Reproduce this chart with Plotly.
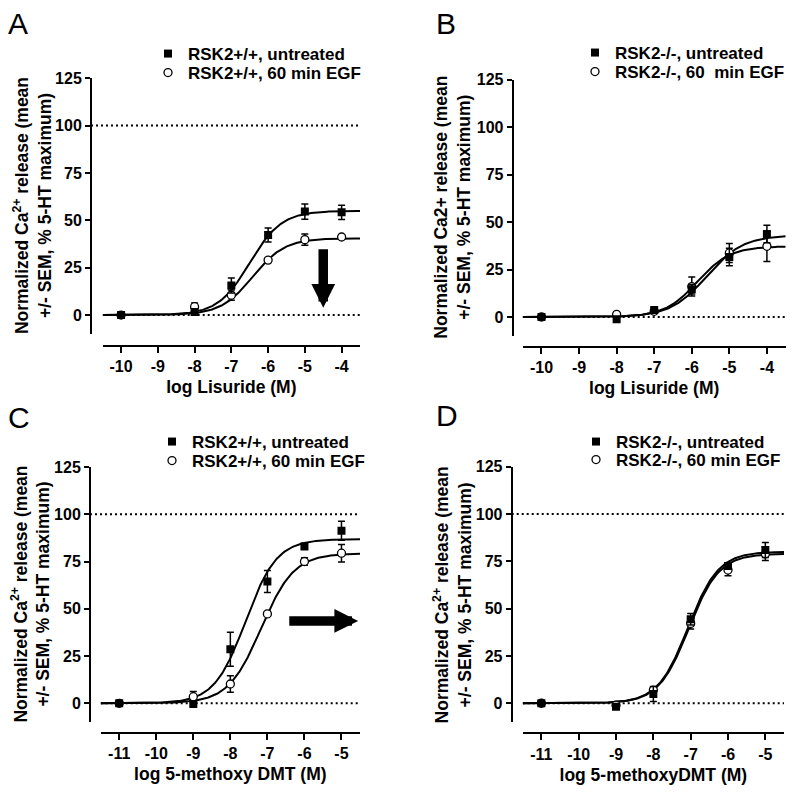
import numpy as np
import plotly.graph_objects as go

FONT = "Liberation Sans"

# ---------------- data ----------------
# Panel A: log Lisuride, RSK2+/+
a_logc = [-10, -8, -7, -6, -5, -4]
a_untr = [0.0, 1.6, 15.6, 42.3, 54.6, 54.2]
a_untr_sem = [0.5, 1.0, 4.0, 3.7, 4.0, 3.8]
a_egf = [0.0, 4.4, 10.5, 29.0, 39.8, 41.2]
a_egf_sem = [0.5, 2.0, 2.7, 1.0, 3.0, 1.0]
a_fit_untr = [0.0, 55.0, -6.50, 1.0]   # bottom, top, logEC50, Hill
a_fit_egf = [0.0, 40.5, -6.42, 1.0]

# Panel B: log Lisuride, RSK2-/-
b_logc = [-10, -8, -7, -6, -5, -4]
b_untr = [0.0, -1.2, 3.7, 14.6, 31.6, 43.7]
b_untr_sem = [0.5, 0.8, 1.0, 2.5, 4.6, 4.6]
b_egf = [0.0, 1.4, 3.0, 16.0, 33.7, 37.2]
b_egf_sem = [0.5, 0.8, 1.0, 5.0, 5.0, 8.0]
b_fit_untr = [0.0, 43.0, -5.60, 0.9]
b_fit_egf = [0.0, 37.2, -5.85, 1.0]

# Panel C: log 5-methoxy DMT, RSK2+/+
c_logc = [-11, -9, -8, -7, -6, -5]
c_untr = [0.0, -0.4, 28.6, 64.4, 83.0, 91.3]
c_untr_sem = [0.5, 0.5, 9.0, 5.8, 1.0, 5.0]
c_egf = [0.0, 3.5, 10.2, 47.3, 75.0, 79.4]
c_egf_sem = [0.5, 2.7, 4.4, 1.0, 2.0, 4.6]
c_fit_untr = [0.0, 86.8, -7.59, 1.03]
c_fit_egf = [0.0, 79.3, -7.17, 0.98]

# Panel D: log 5-methoxyDMT, RSK2-/-
d_logc = [-11, -9, -8, -7, -6, -5]
d_untr = [0.0, -1.8, 4.9, 44.4, 72.5, 81.0]
d_untr_sem = [0.5, 0.8, 4.0, 3.0, 1.5, 4.0]
d_egf = [0.0, -1.0, 7.0, 42.2, 70.4, 78.9]
d_egf_sem = [0.5, 0.8, 1.5, 3.0, 3.0, 3.5]
d_fit_untr = [0.0, 80.1, -7.07, 1.07]
d_fit_egf = [0.0, 79.0, -7.05, 1.07]

y_ticks = [0, 25, 50, 75, 100, 125]
a_xticks = [-10, -9, -8, -7, -6, -5, -4]
c_xticks = [-11, -10, -9, -8, -7, -6, -5]

legend_wt = ["RSK2+/+, untreated", "RSK2+/+, 60 min EGF"]
legend_ko_b = ["RSK2-/-, untreated", "RSK2-/-, 60&nbsp; min EGF"]
legend_ko_d = ["RSK2-/-, untreated", "RSK2-/-, 60 min EGF"]

ytitle_sup = "Normalized Ca<sup>2+</sup> release (mean<br>+/- SEM, % 5-HT maximum)"
ytitle_plain = "Normalized Ca2+ release (mean<br>+/- SEM, % 5-HT maximum)"


def fourpl(x, p):
    bottom, top, logec50, hill = p
    x = np.asarray(x, float)
    return bottom + (top - bottom) / (1 + 10 ** ((logec50 - x) * hill))


W, H = 800, 792


def px_x(v):
    return v / W


def px_y(v):
    return 1 - v / H


panels = [
    dict(letter="A", logc=a_logc, untr=a_untr, untr_sem=a_untr_sem, egf=a_egf, egf_sem=a_egf_sem,
         fu=a_fit_untr, fe=a_fit_egf, xr=[-10.5, -3.5], xticks=a_xticks, xtitle="log Lisuride (M)",
         ytitle=ytitle_sup, names=legend_wt, line100=True,
         xdom=[102.7, 360.0], ydom=[334.0, 78.2], ypos=91.0, xpos=345.7, ytitle_x=32,
         letter_xy=(6, 23), leg=(148, 54, 73),
         arrow=dict(x=-4.5, y=3.9, ax=-4.5, ay=35.5)),
    dict(letter="B", logc=b_logc, untr=b_untr, untr_sem=b_untr_sem, egf=b_egf, egf_sem=b_egf_sem,
         fu=b_fit_untr, fe=b_fit_egf, xr=[-10.5, -3.5], xticks=a_xticks, xtitle="log Lisuride (M)",
         ytitle=ytitle_plain, names=legend_ko_b, line100=False,
         xdom=[522.7, 785.7], ydom=[336.0, 79.5], ypos=512.7, xpos=346.7, ytitle_x=453,
         letter_xy=(434, 23), leg=(575, 53, 72), arrow=None),
    dict(letter="C", logc=c_logc, untr=c_untr, untr_sem=c_untr_sem, egf=c_egf, egf_sem=c_egf_sem,
         fu=c_fit_untr, fe=c_fit_egf, xr=[-11.5, -4.5], xticks=c_xticks, xtitle="log 5-methoxy DMT (M)",
         ytitle=ytitle_sup, names=legend_wt, line100=True,
         xdom=[100.7, 360.0], ydom=[722.2, 467.0], ypos=90.0, xpos=732.7, ytitle_x=31,
         letter_xy=(6, 417), leg=(152, 442, 461),
         arrow=dict(x=-4.55, y=43.6, ax=-6.45, ay=43.6)),
    dict(letter="D", logc=d_logc, untr=d_untr, untr_sem=d_untr_sem, egf=d_egf, egf_sem=d_egf_sem,
         fu=d_fit_untr, fe=d_fit_egf, xr=[-11.5, -4.5], xticks=c_xticks, xtitle="log 5-methoxyDMT (M)",
         ytitle=ytitle_sup, names=legend_ko_d, line100=True,
         xdom=[522.7, 784.0], ydom=[722.2, 466.7], ypos=511.7, xpos=733.3, ytitle_x=452,
         letter_xy=(434, 415), leg=(576, 442, 460), arrow=None),
]

fig = go.Figure()
layout = dict(template="none", width=W, height=H, margin=dict(l=0, r=0, t=0, b=0, pad=0),
              autosize=False, paper_bgcolor="white", plot_bgcolor="white", showlegend=True,
              font=dict(family=FONT, size=16, color="black", weight="bold"))
shapes, annotations = [], []
bold = dict(family=FONT, size=16, color="black", weight="bold")
title_font = dict(family=FONT, size=17.5, color="black", weight="bold")

for k, p in enumerate(panels):
    sfx = "" if k == 0 else str(k + 1)
    xa, ya = "x" + sfx, "y" + sfx
    leg_u = "legend" if k == 0 else f"legend{2 * k + 1}"
    leg_e = f"legend{2 * k + 2}"

    xs = np.linspace(p["xr"][0], p["xr"][1], 300)
    for fit in (p["fe"], p["fu"]):
        fig.add_trace(go.Scatter(x=xs, y=fourpl(xs, fit), mode="lines", xaxis=xa, yaxis=ya,
                                 line=dict(color="black", width=2), showlegend=False,
                                 hoverinfo="skip"))
    fig.add_trace(go.Scatter(x=p["logc"], y=p["egf"], mode="markers", name=p["names"][1],
                             xaxis=xa, yaxis=ya, legend=leg_e,
                             marker=dict(symbol="circle", size=8, color="white",
                                         line=dict(color="black", width=1.3)),
                             error_y=dict(type="data", array=p["egf_sem"], color="black",
                                          thickness=1.5, width=3.5)))
    fig.add_trace(go.Scatter(x=p["logc"], y=p["untr"], mode="markers", name=p["names"][0],
                             xaxis=xa, yaxis=ya, legend=leg_u,
                             marker=dict(symbol="square", size=8, color="black",
                                         line=dict(color="black", width=0)),
                             error_y=dict(type="data", array=p["untr_sem"], color="black",
                                          thickness=1.5, width=3.5)))

    xd = [px_x(p["xdom"][0]), px_x(p["xdom"][1])]
    yd = [px_y(p["ydom"][0]), px_y(p["ydom"][1])]
    layout["xaxis" + sfx] = dict(domain=xd, range=p["xr"], anchor="free", position=px_y(p["xpos"]),
                                 automargin=False,
                                 showline=True, linecolor="black", linewidth=2, showgrid=False,
                                 zeroline=False, ticks="outside", ticklen=6, tickwidth=1.5,
                                 tickcolor="black", tickvals=p["xticks"],
                                 ticktext=[str(t) for t in p["xticks"]], tickfont=bold,
                                 title=dict(text=p["xtitle"], font=title_font, standoff=6))
    layout["yaxis" + sfx] = dict(domain=yd, range=[-10, 125], anchor="free", position=px_x(p["ypos"]),
                                 automargin=False,
                                 showline=True, linecolor="black", linewidth=2, showgrid=False,
                                 zeroline=False, ticks="outside", ticklen=5, tickwidth=1.5,
                                 tickcolor="black", tickvals=y_ticks, tickfont=bold)
    # y-axis title (two lines), placed left of the tick labels
    annotations.append(dict(text=p["ytitle"], xref="paper", yref="paper",
                            x=px_x(p["ytitle_x"]), y=(yd[0] + yd[1]) / 2,
                            xanchor="center", yanchor="middle", textangle=-90, showarrow=False,
                            align="center", font=title_font))

    lx, ly1, ly2 = p["leg"]
    for lid, ly in ((leg_u, ly1), (leg_e, ly2)):
        layout[lid] = dict(x=px_x(lx), y=px_y(ly), xanchor="left", yanchor="middle",
                           bgcolor="rgba(0,0,0,0)", borderwidth=0, itemwidth=30,
                           font=dict(family=FONT, size=17, color="black", weight="bold"))

    dot = dict(color="black", width=2, dash="2px,3px")
    x0_dom = (p["ypos"] - p["xdom"][0]) / (p["xdom"][1] - p["xdom"][0])
    if p["line100"]:
        shapes.append(dict(type="line", xref=xa + " domain", yref=ya, x0=x0_dom, x1=1,
                           y0=100, y1=100, line=dot, layer="below"))
    shapes.append(dict(type="line", xref=xa, yref=ya, x0=p["xr"][0], x1=p["xr"][1],
                       y0=0, y1=0, line=dot, layer="below"))

    lxp, lyp = p["letter_xy"]
    annotations.append(dict(text=p["letter"], xref="paper", yref="paper", x=px_x(lxp), y=px_y(lyp),
                            xanchor="left", yanchor="middle", showarrow=False,
                            font=dict(family=FONT, size=30, color="black", weight="normal")))
    if p["arrow"]:
        ar = p["arrow"]
        annotations.append(dict(text="", xref=xa, yref=ya, axref=xa, ayref=ya,
                                x=ar["x"], y=ar["y"], ax=ar["ax"], ay=ar["ay"], showarrow=True,
                                arrowhead=2, arrowwidth=9.5, arrowsize=0.5, arrowcolor="black"))

layout["shapes"] = shapes
layout["annotations"] = annotations
fig.update_layout(**layout)
fig.write_html("out.html", config={"displayModeBar": False},
               post_script="document.body.style.margin='0';document.body.style.padding='0';")
